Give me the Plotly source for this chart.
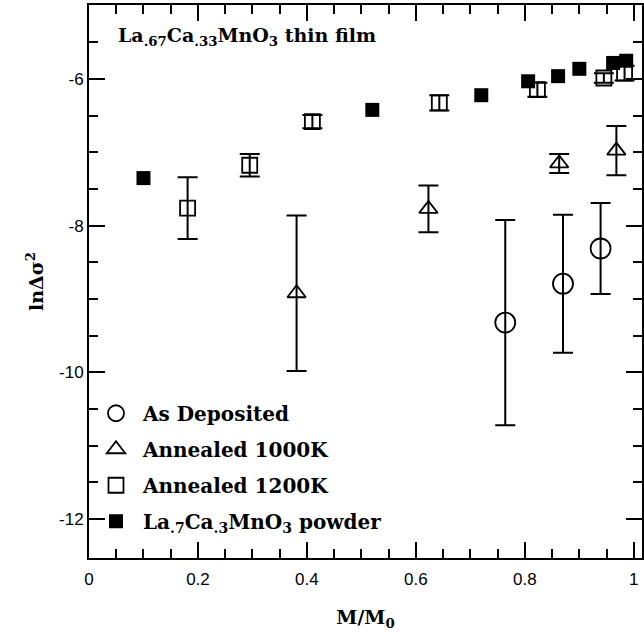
import plotly.graph_objects as go

# As Deposited (circles)
dep_x = [0.764, 0.870, 0.939]
dep_y = [-9.32, -8.79, -8.31]
dep_err = [1.40, 0.94, 0.62]

# Annealed 1000K (triangles)
a1000_x = [0.381, 0.623, 0.863, 0.968]
a1000_y = [-8.92, -7.77, -7.15, -6.975]
a1000_err = [1.06, 0.32, 0.13, 0.335]

# Annealed 1200K (open squares)
a1200_x = [0.181, 0.295, 0.410, 0.643, 0.823, 0.945, 0.983]
a1200_y = [-7.76, -7.175, -6.58, -6.325, -6.145, -5.985, -5.92]
a1200_err = [0.42, 0.155, 0.09, 0.105, 0.095, 0.065, 0.10]

# La.7Ca.3MnO3 powder (filled squares)
pow_x = [0.100, 0.520, 0.720, 0.806, 0.861, 0.900, 0.962, 0.986]
pow_y = [-7.35, -6.42, -6.22, -6.03, -5.96, -5.86, -5.78, -5.75]

x_ticks = [0, 0.2, 0.4, 0.6, 0.8, 1.0]
x_ticklabels = ["0", "0.2", "0.4", "0.6", "0.8", "1"]
y_ticks = [-12, -10, -8, -6]
y_ticklabels = ["-12", "-10", "-8", "-6"]
y_minor_ticks = [-11.5, -11, -10.5, -9.5, -9, -8.5, -7.5, -7, -6.5, -5.5, -5]

SERIF = "DejaVu Serif"
SANS = "Liberation Sans"

fig = go.Figure()

fig.add_trace(go.Scatter(
    x=pow_x, y=pow_y, mode="markers", name="La<sub>.7</sub>Ca<sub>.3</sub>MnO<sub>3</sub> powder",
    marker=dict(symbol="square", size=14, color="black", line=dict(width=0)),
    legendgroup="d", legendrank=4,
))
fig.add_trace(go.Scatter(
    x=a1200_x, y=a1200_y, mode="markers", name="Annealed 1200K",
    marker=dict(symbol="square-open", size=15, color="black", line=dict(width=1.8, color="black")),
    error_y=dict(type="data", array=a1200_err, symmetric=True, color="black", thickness=2, width=10),
    legendgroup="c", legendrank=3,
))
fig.add_trace(go.Scatter(
    x=a1000_x, y=a1000_y, mode="markers", name="Annealed 1000K",
    marker=dict(symbol="triangle-up-open", size=16, color="black", line=dict(width=1.8, color="black")),
    error_y=dict(type="data", array=a1000_err, symmetric=True, color="black", thickness=2, width=10),
    legendgroup="b", legendrank=2,
))
fig.add_trace(go.Scatter(
    x=dep_x, y=dep_y, mode="markers", name="As Deposited",
    marker=dict(symbol="circle-open", size=20, color="black", line=dict(width=1.8, color="black")),
    error_y=dict(type="data", array=dep_err, symmetric=True, color="black", thickness=2, width=10),
    legendgroup="a", legendrank=1,
))

fig.add_annotation(
    x=0.05, y=-5.42, xref="x", yref="y", xanchor="left", yanchor="middle",
    text="<b>La<sub>.67</sub>Ca<sub>.33</sub>MnO<sub>3</sub> thin film</b>",
    showarrow=False, font=dict(family=SERIF, size=19, color="black"),
)

axis_common = dict(
    showgrid=False, zeroline=False, showline=True, linewidth=2, linecolor="black",
    mirror="ticks", ticks="inside", ticklen=16, tickwidth=1.5, tickcolor="black",
    tickfont=dict(family=SANS, size=17, color="black"),
)

fig.update_xaxes(
    range=[0, 1.015], tickvals=x_ticks, ticktext=x_ticklabels,
    minor=dict(dtick=0.05, ticks="inside", ticklen=9, tickwidth=1.5, tickcolor="black", showgrid=False),
    ticklabelstandoff=5,
    title=dict(text="<b>M/M<sub>0</sub></b>", font=dict(family=SERIF, size=19, color="black"), standoff=22),
    **axis_common,
)
fig.update_yaxes(
    range=[-12.53, -4.99], tickvals=y_ticks, ticktext=y_ticklabels,
    minor=dict(tickmode="array", tickvals=y_minor_ticks, ticks="inside", ticklen=9, tickwidth=1.5,
               tickcolor="black", showgrid=False),
    title=dict(text="<b>lnΔσ<sup>2</sup></b>", font=dict(family=SERIF, size=19, color="black"), standoff=10),
    **axis_common,
)

fig.update_layout(
    width=644, height=637,
    margin=dict(l=89, r=0, t=5, b=79),
    paper_bgcolor="white", plot_bgcolor="white",
    showlegend=True,
    legend=dict(
        x=0.0, y=0.297, xanchor="left", yanchor="top",
        traceorder="grouped", tracegroupgap=7, itemwidth=44,
        font=dict(family=SERIF, size=20, color="black", weight="bold"),
        bgcolor="rgba(0,0,0,0)", borderwidth=0,
    ),
)

fig.write_html("out.html")
